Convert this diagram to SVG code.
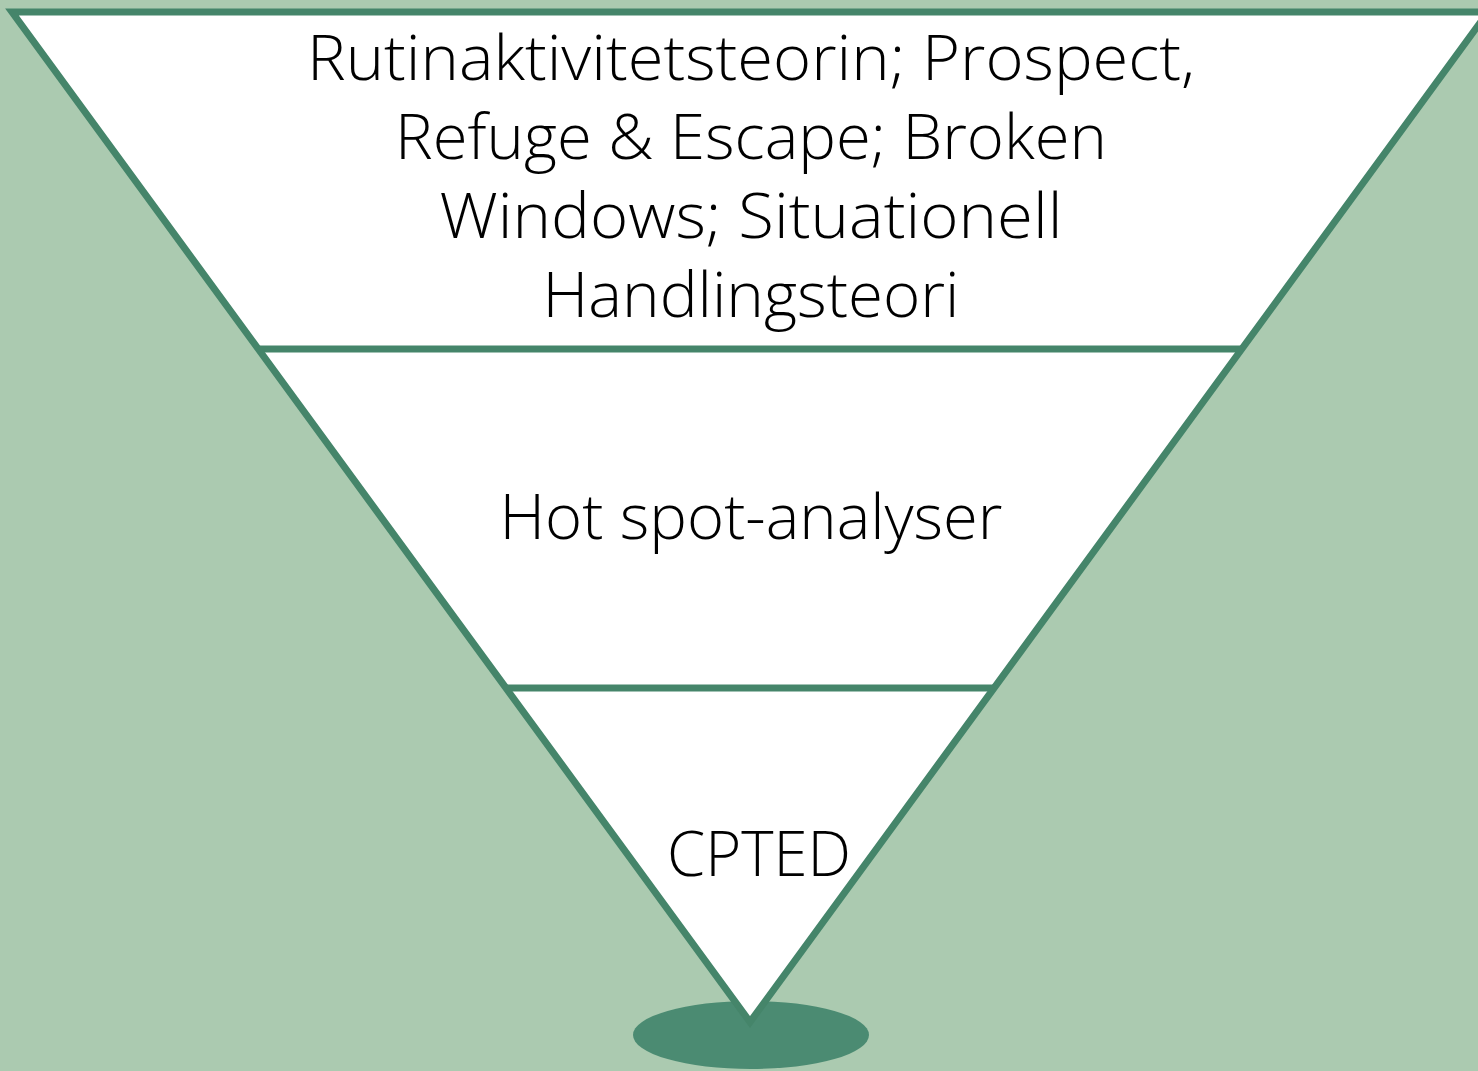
<svg xmlns="http://www.w3.org/2000/svg" width="1478" height="1071" viewBox="0 0 1478 1071">
<style>
.t{font-family:"Open Sans","Liberation Sans",sans-serif;font-weight:300;font-size:62px;fill:#000;text-anchor:middle}
.ln{stroke:#45856a;stroke-width:7;fill:none}
</style>
<rect width="1478" height="1071" fill="#abcab0"/>
<g id="base"><ellipse cx="751" cy="1035" rx="118" ry="34" fill="#4b8b72"/></g>
<g id="funnel"><polygon points="12,12 1488,12 750,1022" fill="#fff" stroke="#45856a" stroke-width="7" stroke-linejoin="miter"/></g>
<g id="dividers">
<line class="ln" x1="260" y1="349" x2="1241" y2="349"/>
<line class="ln" x1="507" y1="688" x2="994" y2="688"/>
</g>
<g id="level1">
<text class="t" x="751" y="80" textLength="888" lengthAdjust="spacingAndGlyphs">Rutinaktivitetsteorin; Prospect,</text>
<text class="t" x="751" y="159" textLength="712" lengthAdjust="spacingAndGlyphs">Refuge &amp; Escape; Broken</text>
<text class="t" x="751" y="238" textLength="623" lengthAdjust="spacingAndGlyphs">Windows; Situationell</text>
<text class="t" x="751" y="317" textLength="417" lengthAdjust="spacingAndGlyphs">Handlingsteori</text>
</g>
<g id="level2"><text class="t" x="751" y="539" textLength="503" lengthAdjust="spacingAndGlyphs">Hot spot-analyser</text></g>
<g id="level3"><text class="t" x="759" y="876" textLength="184" lengthAdjust="spacingAndGlyphs">CPTED</text></g>
</svg>
